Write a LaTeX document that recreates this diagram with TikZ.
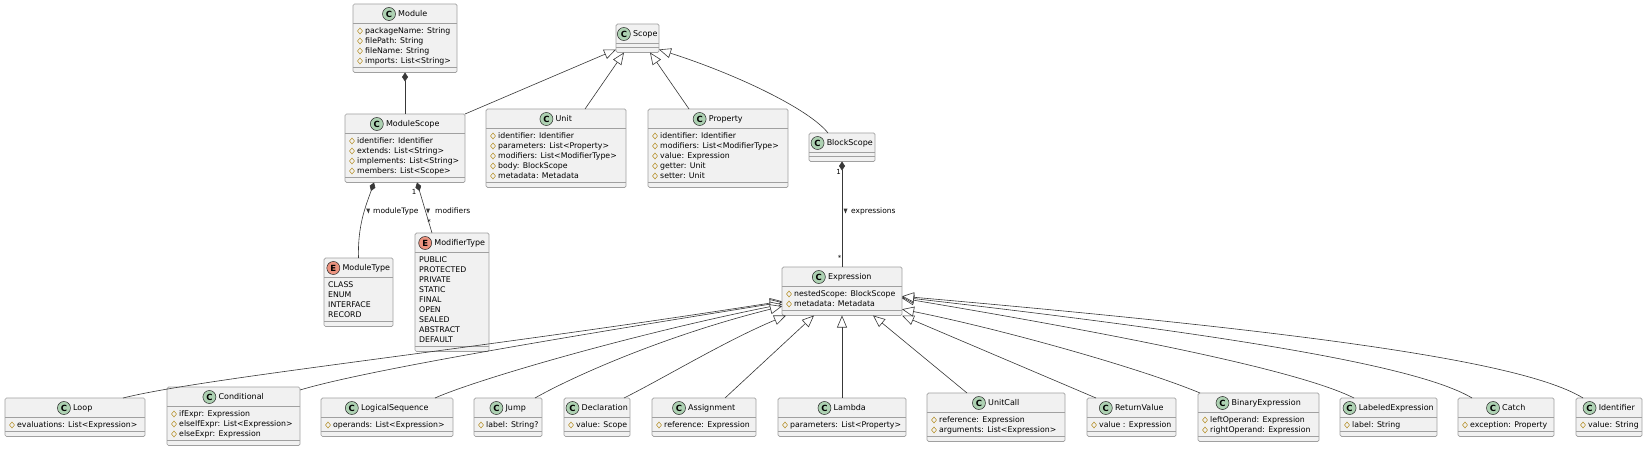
\documentclass[tikz,border=0pt]{standalone}
\usepackage{fontspec}
\setmainfont{DejaVu Sans}
\usetikzlibrary{arrows.meta,calc}
\definecolor{boxfill}{HTML}{F1F1F1}
\definecolor{boxline}{HTML}{A0A0A0}
\definecolor{cicon}{HTML}{ADD1B2}
\definecolor{eicon}{HTML}{EB937F}
\definecolor{attricon}{HTML}{B38D22}
\definecolor{edge}{HTML}{383838}
\tikzset{
  classbox/.style={draw=boxline, fill=boxfill, line width=0.7pt, rounded corners=1.5pt, inner sep=0pt, outer sep=0pt},
  sepline/.style={draw=boxline, line width=0.7pt},
  titletext/.style={font=\fontsize{8}{9.6}\selectfont, inner sep=0pt, text height=6pt, text depth=1.8pt},
  attrtext/.style={font=\fontsize{7.8}{9}\selectfont, inner sep=0pt, anchor=west, text height=5.8pt, text depth=1.6pt},
  iconC/.style={circle, draw=black!85, fill=cicon, line width=0.5pt, minimum size=13pt, inner sep=0pt, font=\fontsize{8.5}{9}\selectfont\bfseries},
  iconE/.style={circle, draw=black!85, fill=eicon, line width=0.5pt, minimum size=13pt, inner sep=0pt, font=\fontsize{8.5}{9}\selectfont\bfseries},
  attrmark/.style={draw=attricon, line width=0.5pt},
  inherit/.style={draw=edge, line width=0.6pt, -{Triangle[length=12pt,width=10pt,fill=white,line width=0.6pt]}},
  compose/.style={draw=edge, line width=0.6pt, {Diamond[length=9pt,width=6pt]}-},
  elabel/.style={font=\fontsize{7.5}{9}\selectfont, inner sep=0pt, text height=5.5pt, text depth=1.5pt},
  mult/.style={font=\fontsize{7}{8}\selectfont, inner sep=0pt},
}
% attribute line helpers: #1 box name, #2 x1, #3 y, #4 index, #5 text
\newcommand{\attrC}[5]{%
  \draw[attrmark] (#2+4.5,#3) -- (#2+7,#3-3) -- (#2+9.5,#3) -- (#2+7,#3+3) -- cycle;
  \node[attrtext] (#1-a#4) at (#2+12,#3) {#5};}
\newcommand{\attrE}[5]{%
  \node[attrtext] (#1-a#4) at (#2+4,#3) {#5};}
% #1 name, #2 x1, #3 y1, #4 x2, #5 n attrs, #6 C/E, #7 title, #8 attrs
\newcommand{\umlbox}[8]{%
  \pgfmathsetmacro{\bxc}{(#2+#4)/2}
  \pgfmathsetmacro{\bybot}{#3+28.5+10*#5}
  \pgfmathsetmacro{\byc}{(#3+\bybot)/2}
  \pgfmathsetmacro{\bw}{#4-#2}
  \pgfmathsetmacro{\bh}{\bybot-#3}
  \pgfmathsetmacro{\bsepa}{#3+19.5}
  \pgfmathsetmacro{\bsepb}{\bybot-5}
  \pgfmathsetmacro{\bty}{#3+10}
  \node[classbox, minimum width=\bw pt, minimum height=\bh pt] (#1) at (\bxc,\byc) {};
  \draw[sepline] (#2,\bsepa) -- (#4,\bsepa) (#2,\bsepb) -- (#4,\bsepb);
  \node[titletext] (#1-t) at (\bxc,\bty) {\hspace*{15.5pt}#7};
  \node[icon#6] (#1-i) at ([xshift=6.5pt]#1-t.west) {#6};
  \ifnum#5>0
    \foreach \a [count=\i] in {#8} {
      \pgfmathsetmacro{\ay}{\bsepa+7.5+10*(\i-1)}
      \csname attr#6\endcsname{#1}{#2}{\ay}{\i}{\a}
    }
  \fi
}
\begin{document}
\begin{tikzpicture}[x=1pt,y=-1pt]
\fill[white] (0,0) rectangle (1645,449);
\useasboundingbox (0,0) rectangle (1645,449);

\umlbox{module}{353}{4}{457}{4}{C}{Module}{packageName: String, filePath: String, fileName: String, imports: List<String>}
\umlbox{scope}{616}{24}{659}{0}{C}{Scope}{}
\umlbox{modulescope}{345}{114}{465}{4}{C}{ModuleScope}{identifier: Identifier, extends: List<String>, implements: List<String>, members: List<Scope>}
\umlbox{unit}{486}{109}{626}{5}{C}{Unit}{identifier: Identifier, parameters: List<Property>, modifiers: List<ModifierType>, body: BlockScope, metadata: Metadata}
\umlbox{property}{648}{109}{788}{5}{C}{Property}{identifier: Identifier, modifiers: List<ModifierType>, value: Expression, getter: Unit, setter: Unit}
\umlbox{blockscope}{809}{133}{875}{0}{C}{BlockScope}{}
\umlbox{moduletype}{324}{258}{393}{4}{E}{ModuleType}{CLASS, ENUM, INTERFACE, RECORD}
\umlbox{modifiertype}{415}{233}{489}{9}{E}{ModifierType}{PUBLIC, PROTECTED, PRIVATE, STATIC, FINAL, OPEN, SEALED, ABSTRACT, DEFAULT}
\umlbox{expression}{782}{267}{902}{2}{C}{Expression}{nestedScope: BlockScope, metadata: Metadata}

\umlbox{loop}{5}{398}{145}{1}{C}{Loop}{evaluations: List<Expression>}
\umlbox{conditional}{167}{387}{300}{3}{C}{Conditional}{ifExpr: Expression, elseIfExpr: List<Expression>, elseExpr: Expression}
\umlbox{logicalsequence}{321}{398}{453}{1}{C}{LogicalSequence}{operands: List<Expression>}
\umlbox{jump}{474}{398}{542}{1}{C}{Jump}{label: String?}
\umlbox{declaration}{564}{398}{630}{1}{C}{Declaration}{value: Scope}
\umlbox{assignment}{652}{398}{756}{1}{C}{Assignment}{reference: Expression}
\umlbox{lambda}{778}{398}{906}{1}{C}{Lambda}{parameters: List<Property>}
\umlbox{unitcall}{927}{393}{1065}{2}{C}{UnitCall}{reference: Expression, arguments: List<Expression>}
\umlbox{returnvalue}{1087}{398}{1176}{1}{C}{ReturnValue}{value : Expression}
\umlbox{binaryexpression}{1198}{393}{1319}{2}{C}{BinaryExpression}{leftOperand: Expression, rightOperand: Expression}
\umlbox{labeledexpression}{1340}{398}{1437}{1}{C}{LabeledExpression}{label: String}
\umlbox{catch}{1458}{398}{1554}{1}{C}{Catch}{exception: Property}
\umlbox{identifier}{1576}{398}{1642}{1}{C}{Identifier}{value: String}

% top connectors
\draw[compose] (module.south) -- (modulescope.north);
\draw[inherit] (modulescope.north east) -- ([yshift=3pt]scope.south west);
\draw[inherit] ([xshift=29pt]unit.north) -- ([xshift=-13.5pt]scope.south);
\draw[inherit] ([xshift=-29pt]property.north) -- ([xshift=12.5pt]scope.south);
\draw[inherit] ([xshift=-14pt]blockscope.north) .. controls +(-18,-23) and +(81,26) .. ([yshift=3pt]scope.south east);
\draw[compose] ([xshift=-31pt]modulescope.south) .. controls +(-8,23) and +(-1,-33) .. (moduletype.north);
\draw[compose] ([xshift=12pt]modulescope.south) -- ([xshift=-20pt]modifiertype.north);
\draw[compose] (blockscope.south) -- (expression.north);

% labels
\fill[edge] (366,208.5) -- (370,208.5) -- (368.5,213.5) -- cycle;
\node[elabel, anchor=west] (lbl-mt) at (373,211) {moduleType};
\fill[edge] (426,208.5) -- (430,208.5) -- (428,213.5) -- cycle;
\node[elabel, anchor=west] (lbl-mod) at (435,211) {modifiers};
\node[mult] (m-1a) at (414,192) {1};
\node[mult] (m-sa) at (429,222) {*};
\fill[edge] (843.5,208.5) -- (847.5,208.5) -- (845.5,213.5) -- cycle;
\node[elabel, anchor=west] (lbl-expr) at (851,211) {expressions};
\node[mult] (m-1b) at (838.5,172) {1};
\node[mult] (m-sb) at (839.5,258) {*};

% expression subclasses
\draw[inherit] ([xshift=48pt]loop.north) .. controls +(80,-20) and +(-320,50) .. ([yshift=-10pt]expression.west);
\draw[inherit] ([yshift=-3pt]conditional.north east) .. controls +(60,-18) and +(-250,40) .. ([yshift=-11pt]expression.west);
\draw[inherit] ([xshift=48pt]logicalsequence.north) .. controls +(40,-18) and +(-150,30) .. ([yshift=-13pt]expression.west);
\draw[inherit] ([xshift=27pt]jump.north) .. controls +(35,-20) and +(-120,30) .. ([yshift=-15pt]expression.west);
\draw[inherit] ([xshift=27pt]declaration.north) .. controls +(40,-20) and +(-60,25) .. ([xshift=4pt]expression.south west);
\draw[inherit] ([xshift=21pt]assignment.north) -- ([xshift=32pt]expression.south west);
\draw[inherit] (lambda.north) -- (expression.south);
\draw[inherit] ([xshift=-29pt]unitcall.north) -- ([xshift=31pt]expression.south);
\draw[inherit] ([xshift=-35.5pt]returnvalue.north) -- (expression.south east);
\draw[inherit] ([xshift=2pt]binaryexpression.north west) .. controls +(-60,-25) and +(100,20) .. ([yshift=-18pt]expression.east);
\draw[inherit] ([xshift=-34.5pt]labeledexpression.north) .. controls +(-50,-25) and +(250,42) .. ([yshift=-7pt]expression.east);
\draw[inherit] ([xshift=-34pt]catch.north) .. controls +(-50,-30) and +(350,40) .. ([yshift=-6pt]expression.east);
\draw[inherit] ([xshift=-26pt]identifier.north) .. controls +(-60,-37) and +(400,35) .. ([yshift=-5pt]expression.east);
\end{tikzpicture}
\end{document}
